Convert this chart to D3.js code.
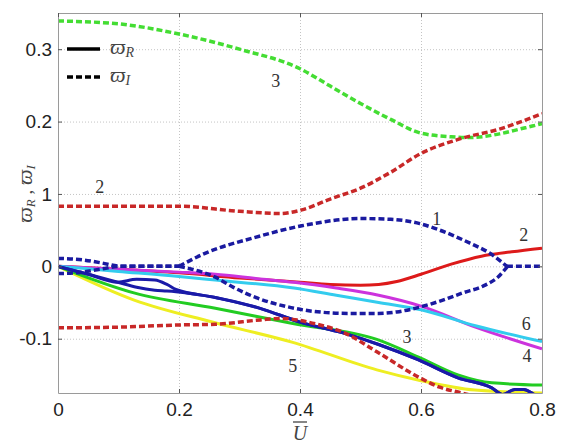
<!DOCTYPE html>
<html>
<head>
<meta charset="utf-8">
<script src="https://cdn.jsdelivr.net/npm/d3@7"></script>
<style>
  body { margin: 0; background: #fff; }
  svg { display: block; }
</style>
</head>
<body>
<div id="chart"></div>
<script>
// axis ticks
const xTicks = [0, 0.2, 0.4, 0.6, 0.8];
const xTickLabels = ["0", "0.2", "0.4", "0.6", "0.8"];
const yTicks = [-0.1, 0, 0.1, 0.2, 0.3];
const yTickLabels = ["-0.1", "0", "1", "0.2", "0.3"];

// imaginary parts (dashed)
const green3I = [[0,0.339],[0.1,0.335],[0.2,0.321],[0.3,0.300],[0.4,0.273],[0.45,0.249],[0.5,0.225],
  [0.55,0.203],[0.6,0.184],[0.65,0.179],[0.68,0.178],[0.73,0.183],[0.765,0.190],[0.8,0.197]];
const red2IUp = [[0,0.083],[0.1,0.083],[0.2,0.083],[0.3,0.076],[0.367,0.073],[0.403,0.078],[0.45,0.093],
  [0.5,0.108],[0.55,0.130],[0.6,0.156],[0.664,0.176],[0.731,0.190],[0.8,0.211]];
const red2ILo = [[0,-0.085],[0.1,-0.084],[0.2,-0.081],[0.26,-0.080],[0.335,-0.074],[0.367,-0.072],[0.433,-0.081],
  [0.471,-0.091],[0.527,-0.118],[0.598,-0.154],[0.631,-0.167],[0.668,-0.175],[0.70,-0.182]];
const blue1IStartUp = [[0,0.011],[0.04,0.009],[0.07,0.005],[0.105,0],[0.2,0]];
const blue1IStartLo = [[0,-0.010],[0.03,-0.009],[0.07,-0.004],[0.105,0],[0.2,0]];
const blue1IArcUp = [[0.2,0],[0.243,0.018],[0.326,0.040],[0.403,0.056],[0.5,0.066],[0.55,0.065],
  [0.598,0.059],[0.631,0.050],[0.681,0.032],[0.714,0.018],[0.742,0]];
const blue1IArcLo = [[0.2,0],[0.26,-0.015],[0.29,-0.029],[0.33,-0.044],[0.38,-0.056],[0.42,-0.062],[0.48,-0.065],
  [0.53,-0.065],[0.56,-0.063],[0.595,-0.057],[0.635,-0.047],[0.668,-0.037],[0.706,-0.026],[0.727,-0.015],[0.743,0]];
const blue1IEnd = [[0.742,0],[0.8,0]];

// real parts (solid)
const red2R = [[0,0],[0.1,-0.004],[0.2,-0.009],[0.3,-0.016],[0.4,-0.022],[0.45,-0.025],[0.5,-0.026],
  [0.53,-0.025],[0.56,-0.021],[0.6,-0.011],[0.65,0.003],[0.7,0.014],[0.75,0.020],[0.8,0.025]];
const magentaR = [[0,0],[0.1,-0.004],[0.2,-0.008],[0.26,-0.011],[0.33,-0.017],[0.39,-0.022],[0.46,-0.030],
  [0.53,-0.040],[0.6,-0.055],[0.69,-0.084],[0.8,-0.114]];
const cyanR = [[0,0],[0.1,-0.007],[0.2,-0.014],[0.26,-0.019],[0.39,-0.030],[0.46,-0.040],[0.53,-0.050],
  [0.6,-0.060],[0.69,-0.082],[0.8,-0.104]];
const yellowR = [[0,0],[0.127,-0.047],[0.255,-0.077],[0.388,-0.105],[0.527,-0.143],[0.595,-0.157],
  [0.689,-0.171],[0.8,-0.175]];
const greenR = [[0,0],[0.127,-0.037],[0.26,-0.058],[0.388,-0.079],[0.527,-0.101],[0.595,-0.125],
  [0.661,-0.150],[0.717,-0.161],[0.8,-0.164]];
const blueTail = [[0.26,-0.043],[0.334,-0.058],[0.4,-0.077],[0.471,-0.092],[0.53,-0.108],[0.595,-0.129],
  [0.661,-0.154],[0.717,-0.168],[0.735,-0.177],[0.755,-0.170],[0.77,-0.170],[0.785,-0.176],[0.8,-0.184]];
const blueRA = [[0,0],[0.05,-0.011],[0.099,-0.022],[0.13,-0.018],[0.16,-0.019],[0.18,-0.025],[0.195,-0.032]].concat(blueTail);
const blueRB = [[0,0],[0.05,-0.011],[0.099,-0.022],[0.13,-0.029],[0.16,-0.033],[0.18,-0.034],[0.195,-0.035]].concat(blueTail);

// curve numbers
const curveLabels = [
  {t: "3", x: 0.360, y: 0.256}, {t: "2", x: 0.069, y: 0.109}, {t: "1", x: 0.626, y: 0.066},
  {t: "2", x: 0.770, y: 0.043}, {t: "3", x: 0.577, y: -0.098}, {t: "6", x: 0.774, y: -0.079},
  {t: "4", x: 0.775, y: -0.124}, {t: "5", x: 0.388, y: -0.138}
];

const width = 563, height = 446,
    margin = ({ top: 13, right: 21, bottom: 53, left: 58 });

const svg = d3.select("#chart").append("svg")
    .attr("width", width).attr("height", height)
    .style("background", "#fff");

const x = d3.scaleLinear().domain([0, 0.8]).range([margin.left, width - margin.right]);
const y = d3.scaleLinear().domain([-0.175, 0.35]).range([height - margin.bottom, margin.top]);

svg.append("defs").append("clipPath").attr("id", "clip")
  .append("rect")
    .attr("x", x(0)).attr("y", y(0.35))
    .attr("width", x(0.8) - x(0)).attr("height", y(-0.175) - y(0.35));

// grid
svg.append("g")
    .attr("transform", `translate(0, ${y(-0.175)})`)
    .call(d3.axisBottom(x).tickValues(xTicks).tickSize(-(y(-0.175) - y(0.35))).tickFormat(""))
    .call(g => g.select(".domain").remove())
    .call(g => g.selectAll("line").attr("stroke", "#c4c4c4").attr("stroke-dasharray", "1,2"));
svg.append("g")
    .attr("transform", `translate(${x(0)}, 0)`)
    .call(d3.axisLeft(y).tickValues(yTicks).tickSize(-(x(0.8) - x(0))).tickFormat(""))
    .call(g => g.select(".domain").remove())
    .call(g => g.selectAll("line").attr("stroke", "#c4c4c4").attr("stroke-dasharray", "1,2"));

// lines
const line = d3.line().x(d => x(d[0])).y(d => y(d[1])).curve(d3.curveMonotoneX);
const plot = svg.append("g").attr("clip-path", "url(#clip)");

const solids = [
  {d: red2R, c: "#dd1a1a"}, {d: magentaR, c: "#cc33dd"}, {d: cyanR, c: "#33ccee"},
  {d: yellowR, c: "#eeee22"}, {d: greenR, c: "#22cc22"}, {d: blueRA, c: "#1a1aa8"}, {d: blueRB, c: "#1a1aa8"}
];
const dashes = [
  {d: green3I, c: "#44dd33"}, {d: red2IUp, c: "#c82828"}, {d: red2ILo, c: "#c82828"},
  {d: blue1IStartUp, c: "#1a1aa0"}, {d: blue1IStartLo, c: "#1a1aa0"}, {d: blue1IArcUp, c: "#1a1aa0"},
  {d: blue1IArcLo, c: "#1a1aa0"}, {d: blue1IEnd, c: "#1a1aa0"}
];

plot.selectAll(".solid").data(solids).join("path")
    .attr("class", "solid")
    .attr("d", s => line(s.d))
    .attr("fill", "none").attr("stroke", s => s.c).attr("stroke-width", 3);

plot.selectAll(".dash").data(dashes).join("path")
    .attr("class", "dash")
    .attr("d", s => line(s.d))
    .attr("fill", "none").attr("stroke", s => s.c).attr("stroke-width", 3.5)
    .attr("stroke-dasharray", "6,3");

// box and ticks
const tickColor = "#555";
const xAxis = (g) => g
    .attr("transform", `translate(0, ${y(-0.175)})`)
    .call(d3.axisBottom(x).tickValues(xTicks).tickSizeInner(-4).tickSizeOuter(0).tickPadding(10)
      .tickFormat((d, i) => xTickLabels[i]));
const yAxis = (g) => g
    .attr("transform", `translate(${x(0)}, 0)`)
    .call(d3.axisLeft(y).tickValues(yTicks).tickSizeInner(-4).tickSizeOuter(0).tickPadding(6)
      .tickFormat((d, i) => yTickLabels[i]));
const xTop = (g) => g
    .attr("transform", `translate(0, ${y(0.35)})`)
    .call(d3.axisTop(x).tickValues(xTicks).tickSizeInner(-4).tickSizeOuter(0).tickFormat(""));
const yRight = (g) => g
    .attr("transform", `translate(${x(0.8)}, 0)`)
    .call(d3.axisRight(y).tickValues(yTicks).tickSizeInner(-4).tickSizeOuter(0).tickFormat(""));

[xAxis, yAxis, xTop, yRight].forEach(a => {
  svg.append("g").call(a)
    .call(g => g.select(".domain").attr("stroke", "#9a9a9a"))
    .call(g => g.selectAll(".tick line").attr("stroke", tickColor))
    .call(g => g.selectAll("text").attr("font-family", "'Liberation Sans', Arial, sans-serif")
      .attr("font-size", 19).attr("fill", "#222"));
});

// curve numbers
svg.selectAll(".clabel").data(curveLabels).join("text")
    .attr("class", "clabel")
    .text(d => d.t)
    .attr("x", d => x(d.x)).attr("y", d => y(d.y))
    .attr("text-anchor", "middle").attr("dominant-baseline", "central")
    .attr("font-family", "'Liberation Serif', 'Times New Roman', serif")
    .attr("font-size", 18).attr("fill", "#333");

// legend
const omegaBar = "\u03D6";
const legend = svg.append("g").attr("transform", "translate(67, 49)");
[{dash: null, sub: "R"}, {dash: "6,3", sub: "I"}].forEach((e, i) => {
  const row = legend.append("g").attr("transform", `translate(0, ${i * 28})`);
  row.append("line").attr("x1", 0).attr("x2", 33).attr("y1", 0).attr("y2", 0)
    .attr("stroke", "#000").attr("stroke-width", 3.5)
    .attr("stroke-dasharray", e.dash);
  const t = row.append("text").attr("x", 43).attr("y", 5)
    .attr("font-family", "'Liberation Serif', 'DejaVu Serif', serif").attr("font-style", "italic")
    .attr("fill", "#444");
  t.append("tspan").attr("font-size", 22).text(omegaBar);
  t.append("tspan").attr("font-size", 14).attr("dy", 3).text(e.sub);
});

// axis titles
const xt = svg.append("g").attr("transform", `translate(${x(0.4)}, 440)`);
xt.append("text").text("U")
    .attr("text-anchor", "middle")
    .attr("font-family", "'Liberation Serif', 'Times New Roman', serif").attr("font-style", "italic")
    .attr("font-size", 20).attr("fill", "#444");
xt.append("line").attr("x1", -7).attr("x2", 7).attr("y1", -18).attr("y2", -18)
    .attr("stroke", "#444").attr("stroke-width", 1.3);

const yt = svg.append("text")
    .attr("transform", `translate(32, ${y(0.1)}) rotate(-90)`)
    .attr("text-anchor", "middle")
    .attr("font-family", "'Liberation Serif', 'DejaVu Serif', serif").attr("font-style", "italic")
    .attr("fill", "#444");
yt.append("tspan").attr("font-size", 22).text(omegaBar);
yt.append("tspan").attr("font-size", 13).attr("dy", 3).text("R");
yt.append("tspan").attr("font-size", 19).attr("dy", -3).attr("font-style", "normal").text(" , ");
yt.append("tspan").attr("font-size", 22).text(omegaBar);
yt.append("tspan").attr("font-size", 13).attr("dy", 3).text("I");
</script>
</body>
</html>
